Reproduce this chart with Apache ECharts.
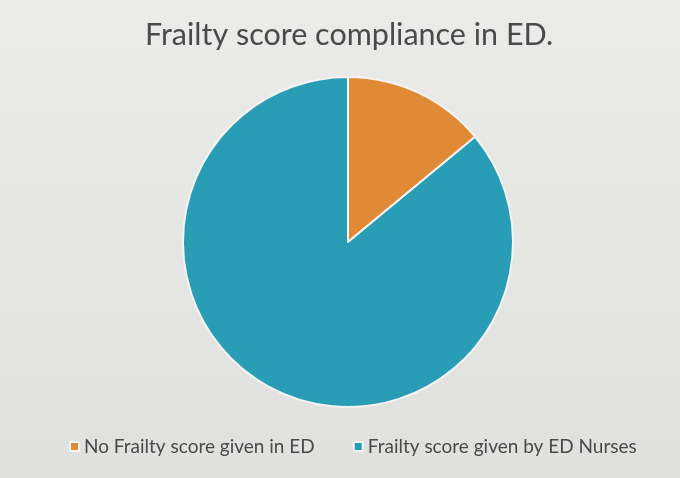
<!DOCTYPE html>
<html>
<head>
<meta charset="utf-8">
<script src="https://cdn.jsdelivr.net/npm/echarts@6/dist/echarts.min.js"></script>
<style>
  html, body { margin: 0; padding: 0; background: #e5e5e3; }
  #box1 { width: 680px; height: 478px; }
</style>
</head>
<body>
<div id="box1"></div>
<script>
// 数据
var categories = ["No Frailty score given in ED", "Frailty score given by ED Nurses"]
var values = [14, 86]
var colors = ["#e08a36", "#2a9db6"]

var MyEcharts1 = echarts.init(document.getElementById("box1"))

var option1 = {
    backgroundColor: {
        type: "linear", x: 0, y: 0, x2: 0, y2: 1,
        colorStops: [
            { offset: 0, color: "#ebebea" },
            { offset: 1, color: "#e0e0de" }
        ]
    },
    // 标题
    title: {
        text: "Frailty score compliance in ED.",
        left: 140,
        top: 15,
        textStyle: {
            color: "#4a4a4a",
            fontFamily: "Lato",
            fontSize: 30.5,
            fontWeight: "normal"
        }
    },
    // 图例
    legend: {
        data: categories,
        left: 64,
        top: 432,
        icon: "rect",
        itemWidth: 9,
        itemHeight: 9,
        itemGap: 38,
        textStyle: {
            color: "#4a4a4a",
            fontFamily: "Lato",
            fontSize: 19
        }
    },
    color: colors,
    series: [
        {
            type: "pie",
            center: [348, 242],
            radius: 165,
            startAngle: 90,
            clockwise: true,
            label: { show: false },
            labelLine: { show: false },
            itemStyle: { borderColor: "#f4f4f2", borderWidth: 2 },
            data: categories.map(function (c, i) {
                return { name: c, value: values[i] }
            })
        }
    ]
}

MyEcharts1.setOption(option1)
</script>
</body>
</html>
